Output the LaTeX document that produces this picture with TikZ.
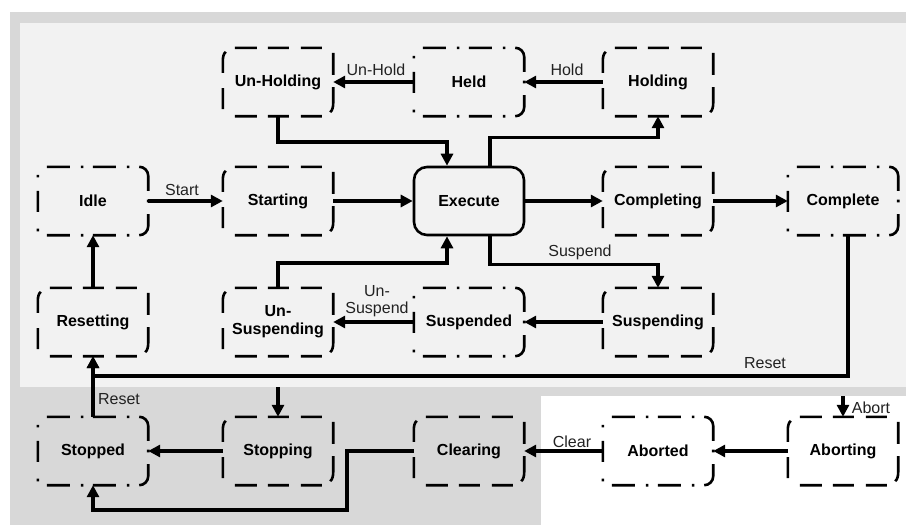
\documentclass[tikz,border=0pt]{standalone}
\usepackage{fontspec}
\setmainfont{Liberation Sans}
\usetikzlibrary{arrows.meta}
\definecolor{zoneouter}{HTML}{D8D8D8}
\definecolor{zoneinner}{HTML}{F2F2F2}
\definecolor{labeltext}{HTML}{222222}

% broken outline of a transient (acting) state
\newcommand\actframe[1]{%
  \draw[frame]
    ([shift={(12,0)}]#1.north west) -- ++(22,0) ++(11,0) -- ++(21,0) ++(12,0) -- ++(21,0)
    ([shift={(12,0)}]#1.south west) -- ++(22,0) ++(11,0) -- ++(21,0) ++(12,0) -- ++(21,0)
    ([shift={(3,4)}]#1.north west) .. controls ([shift={(1,5.5)}]#1.north west)
      and ([shift={(0,9)}]#1.north west) .. ([shift={(0,13)}]#1.north west)
      -- ([shift={(0,25)}]#1.north west)
    ([shift={(0,-7)}]#1.south west) -- ([shift={(0,-28)}]#1.south west)
    ([shift={(0,5)}]#1.north east) -- ([shift={(0,27)}]#1.north east)
    ([shift={(0,-29)}]#1.south east) -- ([shift={(0,-13)}]#1.south east)
      .. controls ([shift={(0,-9)}]#1.south east) and ([shift={(-1,-5.5)}]#1.south east)
      .. ([shift={(-3,-4)}]#1.south east);
}
% dash-dot outline of a waiting state
\newcommand\waitframe[1]{%
  \draw[frame]
    ([shift={(9,0)}]#1.north west) -- ++(23,0) ++(11,0) -- ++(2.6,0) ++(9.4,0) -- ++(23,0) ++(11,0) -- ++(2.6,0)
    ([shift={(9,0)}]#1.south west) -- ++(23,0) ++(11,0) -- ++(2.6,0) ++(9.4,0) -- ++(23,0) ++(11,0) -- ++(2.6,0)
    ([shift={(0,8)}]#1.north west) -- ++(0,2.6)
    ([shift={(0,24)}]#1.north west) -- ++(0,21)
    ([shift={(0,-6.5)}]#1.south west) -- ++(0,2.6)
    ([shift={(-9,0)}]#1.north east) .. controls ([shift={(-4,0)}]#1.north east)
      and ([shift={(0,4)}]#1.north east) .. ([shift={(0,9)}]#1.north east)
      -- ([shift={(0,24)}]#1.north east)
    ([shift={(0,-1.3)}]#1.east) -- ([shift={(0,1.3)}]#1.east)
    ([shift={(0,-21)}]#1.south east) -- ([shift={(0,-9)}]#1.south east)
      .. controls ([shift={(0,-4)}]#1.south east) and ([shift={(-4,0)}]#1.south east)
      .. ([shift={(-9,0)}]#1.south east);
}

\begin{document}
\begin{tikzpicture}[x=1pt,y=-1pt,
  state/.style={minimum width=110pt,minimum height=68pt,
    font=\fontsize{16}{18}\selectfont\bfseries,align=center,inner sep=0pt},
  active/.style={state,draw,line width=2.6pt,rounded corners=13pt},
  frame/.style={line width=2.6pt,line cap=butt},
  flow/.style={line width=3.5pt,-{Triangle[length=12pt,width=12pt]}},
  lbl/.style={font=\fontsize{16}{17}\selectfont,text=labeltext,inner sep=0pt,align=center}
]
\useasboundingbox (0,0) rectangle (906,525);

% zones
\fill[zoneouter] (10,12) rectangle (906,525);
\fill[zoneinner] (20,23) rectangle (906,387);
\fill[white] (541,396) rectangle (906,525);

% states
\node[state]  (unholding)    at (278,82)  {Un-Holding};
\node[state]  (held)         at (469,82)  {Held};
\node[state]  (holding)      at (658,82)  {Holding};

\node[state]  (idle)         at (93,201)  {Idle};
\node[state]  (starting)     at (278,201) {Starting};
\node[active] (execute)      at (469,201) {Execute};
\node[state]  (completing)   at (658,201) {Completing};
\node[state]  (complete)     at (843,201) {Complete};

\node[state]  (resetting)    at (93,322)  {Resetting};
\node[state]  (unsuspending) at (278,322) {Un-\\Suspending};
\node[state]  (suspended)    at (469,322) {Suspended};
\node[state]  (suspending)   at (658,322) {Suspending};

\node[state]  (stopped)      at (93,451)  {Stopped};
\node[state]  (stopping)     at (278,451) {Stopping};
\node[state]  (clearing)     at (469,451) {Clearing};
\node[state]  (aborted)      at (658,451) {Aborted};
\node[state]  (aborting)     at (843,451) {Aborting};

\foreach \n in {unholding,holding,starting,completing,resetting,
                unsuspending,suspending,stopping,clearing,aborting}
  {\actframe{\n}}
\foreach \n in {held,idle,complete,suspended,stopped,aborted}
  {\waitframe{\n}}

% transitions
\draw[flow] (held.west) -- (unholding.east);
\draw[flow] (holding.west) -- (held.east);
\draw[flow] (unholding.south) -- ++(0,26) -| ([xshift=-22pt]execute.north);
\draw[flow] ([xshift=21pt]execute.north) -- ++(0,-28) -| (holding.south);

\draw[flow] (idle.east) -- (starting.west);
\draw[flow] (starting.east) -- (execute.west);
\draw[flow] (execute.east) -- (completing.west);
\draw[flow] (completing.east) -- (complete.west);

\draw[flow] ([xshift=21pt]execute.south) -- ++(0,28) -| (suspending.north);
\draw[flow] (suspending.west) -- (suspended.east);
\draw[flow] (suspended.west) -- (unsuspending.east);
\draw[flow] (unsuspending.north) -- ++(0,-25) -| ([xshift=-22pt]execute.south);
\draw[flow] (resetting.north) -- (idle.south);

\draw[flow] ([xshift=5pt]complete.south) -- ++(0,141) -| (resetting.south);
\draw[flow] (stopped.north) -- (resetting.south);
\coordinate (stopentry) at (278,387);
\draw[flow] (stopentry) -- (stopping.north);
\draw[flow] (stopping.west) -- (stopped.east);
\draw[flow] (clearing.west) -- ++(-67,0) -- ++(0,59) -| (stopped.south);
\draw[flow] (aborted.west) -- (clearing.east);
\draw[flow] (aborting.west) -- (aborted.east);
\coordinate (abortentry) at (843,396);
\draw[flow] (abortentry) -- (aborting.north);

% transition labels
\node[lbl] (lunhold)    at (376,70)  {Un-Hold};
\node[lbl] (lhold)      at (567,70)  {Hold};
\node[lbl] (lstart)     at (182,190) {Start};
\node[lbl] (lsuspend)   at (580,252) {Suspend};
\node[lbl] (lunsuspend) at (377,301) {Un-\\Suspend};
\node[lbl] (lresetr)    at (765,363) {Reset};
\node[lbl] (lresetl)    at (119,399) {Reset};
\node[lbl] (lclear)     at (572,442) {Clear};
\node[lbl] (labort)     at (871,408) {Abort};
\end{tikzpicture}
\end{document}
